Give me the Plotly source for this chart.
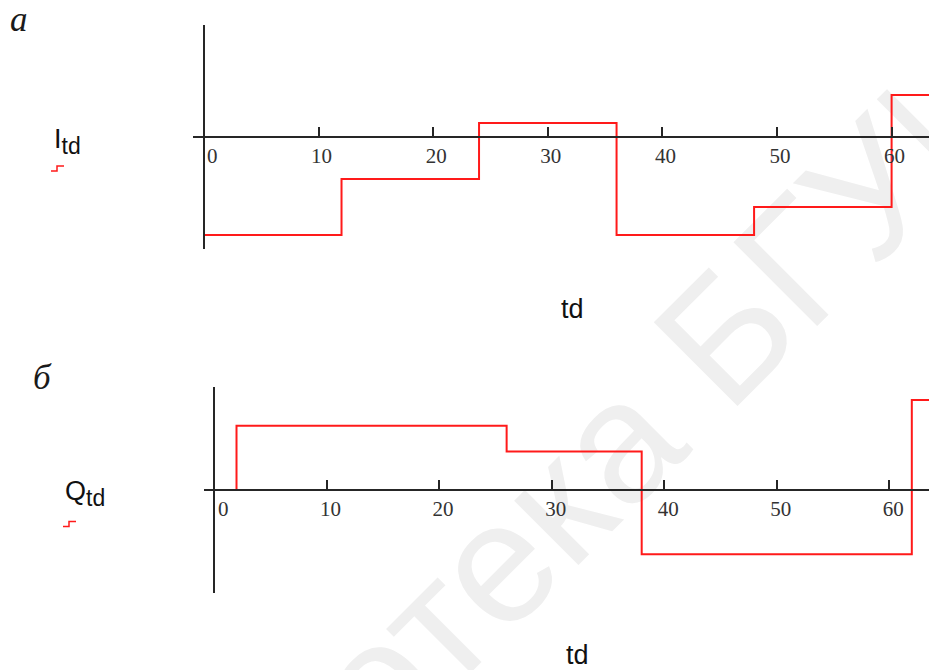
import plotly.graph_objects as go

W, H = 929, 670

# ---- data ----
td_I = [0, 12, 24, 36, 48, 60, 64]
I_td = [-7, -3, 1, -7, -5, 3, 3]

td_Q = [0, 2, 26, 38, 62, 64]
Q_td = [0, 5, 3, -5, 7, 7]

tick_vals = [0, 10, 20, 30, 40, 50, 60]
tick_labels = ["0", "10", "20", "30", "40", "50", "60"]


def px(x):
    return x / W


def py(y):
    return 1 - y / H


fig = go.Figure()
fig.add_trace(go.Scatter(x=td_I, y=I_td, mode="lines", line=dict(color="#ff1a1a", width=2, shape="hv"),
                         xaxis="x", yaxis="y", showlegend=False, hoverinfo="skip"))
fig.add_trace(go.Scatter(x=td_Q, y=Q_td, mode="lines", line=dict(color="#ff1a1a", width=2, shape="hv"),
                         xaxis="x2", yaxis="y2", showlegend=False, hoverinfo="skip"))

axis_col = "#262626"
tickfont = dict(family="Liberation Serif, Times New Roman, serif", size=21, color="#333333")
ticktext = [("\u2007" + t if v == 0 else t) for v, t in zip(tick_vals, tick_labels)]

common_x = dict(showgrid=False, zeroline=False, showline=True, linecolor=axis_col, linewidth=1.6,
                ticks="inside", ticklen=9, tickwidth=1.6, tickcolor=axis_col,
                tickvals=tick_vals, ticktext=ticktext, tickfont=tickfont, anchor="free", side="bottom")
common_y = dict(showgrid=False, zeroline=False, showline=True, linecolor=axis_col, linewidth=1.6,
                ticks="", showticklabels=False, anchor="free", range=[-8, 8])

fig.update_layout(
    width=W, height=H, autosize=False,
    margin=dict(l=0, r=0, t=0, b=0),
    paper_bgcolor="white", plot_bgcolor="rgba(0,0,0,0)",
    xaxis=dict(common_x, domain=[px(193), 1], range=[(193 - 204) / 11.46, (929 - 204) / 11.46],
               position=py(137), ticklabelshift=3),
    yaxis=dict(common_y, domain=[py(249), py(25)], position=px(204)),
    xaxis2=dict(common_x, domain=[px(204), 1], range=[(204 - 214) / 11.255, (929 - 214) / 11.255],
                position=py(490), ticklabelshift=4),
    yaxis2=dict(common_y, domain=[py(593), py(387)], position=px(214)),
)

# watermark (behind everything)
wx, wy = 522, 514
fig.add_shape(type="rect", xref="paper", yref="paper", x0=px(wx - 1), x1=px(wx + 1), y0=py(wy + 1), y1=py(wy - 1),
              line=dict(width=0), fillcolor="rgba(0,0,0,0)", layer="below",
              label=dict(text="Библиотека БГУИР", textangle=-45, textposition="middle center",
                         font=dict(family="Liberation Sans, Arial, sans-serif", size=172, color="#efefef")))

# small red legend glyphs
for (x0, y0) in [(51, 171), (63, 526.5)]:
    path = (f"M {px(x0)} {py(y0)} L {px(x0 + 6)} {py(y0)} L {px(x0 + 6)} {py(y0 - 5)} "
            f"L {px(x0 + 13)} {py(y0 - 5)}")
    fig.add_shape(type="path", xref="paper", yref="paper", path=path, line=dict(color="#ff1a1a", width=1.5))

serif_it = dict(family="Liberation Serif, Times New Roman, serif", size=35, color="#1a1a1a", style="italic")
sans = dict(family="Liberation Sans, Arial, sans-serif", size=27, color="#111111")

annos = [
    dict(x=px(19), y=py(19), text="а", font=serif_it, xanchor="center", yanchor="middle"),
    dict(x=px(42), y=py(377), text="б", font=serif_it, xanchor="center", yanchor="middle"),
    dict(x=px(52), y=py(141), text="I<sub><span style='font-size:23px'>td</span></sub>", font=sans,
         xanchor="left", yanchor="middle"),
    dict(x=px(63), y=py(494), text="Q<sub><span style='font-size:23px'>td</span></sub>", font=sans,
         xanchor="left", yanchor="middle"),
    dict(x=px(572), y=py(309), text="td", font=sans, xanchor="center", yanchor="middle"),
    dict(x=px(577), y=py(655), text="td", font=sans, xanchor="center", yanchor="middle"),
]
for a in annos:
    fig.add_annotation(xref="paper", yref="paper", showarrow=False, **a)

fig.write_html("out.html", config={"displayModeBar": False},
               post_script="document.body.style.margin='0';document.body.style.overflow='hidden';")
